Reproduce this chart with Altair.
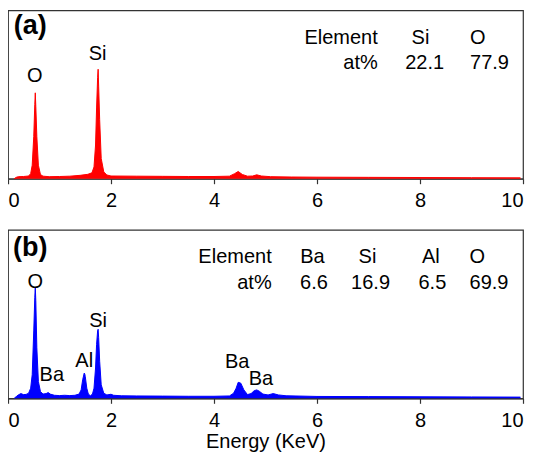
import altair as alt
import pandas as pd

# ---- Spectrum (a) ----
energy_a = [0.12, 0.16, 0.2, 0.3, 0.4, 0.44, 0.47, 0.5, 0.52, 0.53, 0.54, 0.56, 0.59, 0.63, 0.68,
            0.8, 1.0, 1.2, 1.4, 1.55, 1.63, 1.67, 1.70, 1.72, 1.74, 1.75, 1.76, 1.78, 1.81, 1.86, 1.92,
            2.0, 2.5, 3.0, 3.5, 4.0, 4.3, 4.4, 4.47, 4.55, 4.65, 4.75, 4.83, 4.92, 5.1, 5.5,
            6.0, 7.0, 8.0, 9.0, 9.95]
counts_a = [0, 0.8, 1.2, 1.3, 1.6, 3, 8, 25, 44, 51, 43, 25, 8, 2.5, 1.5,
            1.2, 1.3, 1.5, 2.0, 2.6, 3.5, 7, 20, 42, 60, 65, 55, 35, 12, 4, 2.2,
            1.6, 1.5, 1.4, 1.3, 1.3, 1.5, 3, 4.3, 2.5, 1.5, 1.6, 2.3, 1.6, 1.2, 1.0,
            0.9, 0.8, 0.7, 0.6, 0.5]

# ---- Spectrum (b) ----
energy_b = [0.12, 0.16, 0.2, 0.25, 0.3, 0.35, 0.4, 0.44, 0.47, 0.5, 0.52, 0.53, 0.54, 0.56, 0.59, 0.63, 0.68,
            0.74, 0.78, 0.82, 0.9, 1.0, 1.1, 1.2, 1.3, 1.38, 1.42, 1.45, 1.48, 1.49, 1.5, 1.53, 1.56,
            1.6, 1.64, 1.67, 1.70, 1.72, 1.74, 1.75, 1.76, 1.78, 1.81, 1.86, 1.92,
            2.0, 2.05, 2.2, 2.5, 3.0, 3.5, 4.0, 4.3, 4.38, 4.43, 4.47, 4.52, 4.58, 4.65,
            4.72, 4.78, 4.83, 4.88, 4.95, 5.05, 5.15, 5.25, 5.4, 6.0, 7.0, 8.0, 9.0, 9.95]
counts_b = [0, 1, 2, 2.8, 2.2, 2.3, 3, 6, 14, 40, 60, 66, 58, 30, 10, 4, 2.5,
            2.8, 3.4, 2.5, 1.8, 1.6, 1.8, 1.6, 1.8, 2.5, 5, 11, 15, 14.5, 13, 6, 2.5,
            1.5, 2.5, 6, 18, 32, 40, 41, 36, 22, 8, 3, 2,
            2.4, 1.8, 1.5, 1.4, 1.3, 1.2, 1.2, 1.4, 3, 6, 9.5, 9, 5, 2.2,
            2.8, 4.5, 5, 4.2, 2.5, 2, 2.8, 2, 1.5, 1.1, 1, 0.9, 0.8, 0.7]

# ---- Peak labels ----
peak_a_text = ["O", "Si"]
peak_a_x = [0.52, 1.74]
peak_a_y = [60.9, 73.9]

peak_b_text = ["O", "Ba", "Al", "Si", "Ba", "Ba"]
peak_b_x = [0.53, 0.85, 1.48, 1.75, 4.45, 4.91]
peak_b_y = [69.0, 14.1, 22.1, 45.9, 21.3, 11.6]

# ---- Composition tables ----
table_a_text = ["Si", "O", "22.1", "77.9"]
table_a_x = [8.01, 9.12, 8.09, 9.35]
table_a_y = [83.6, 83.6, 68.6, 68.6]

table_b_text = ["Ba", "Si", "Al", "O", "6.6", "16.9", "6.5", "69.9"]
table_b_x = [5.91, 6.98, 8.21, 9.11, 5.94, 7.04, 8.24, 9.34]
table_b_y = [83.9, 83.9, 83.9, 83.9, 68.4, 68.4, 68.4, 68.4]

row_heads = ["Element", "at%"]
row_head_x_a = [7.18, 7.18]
row_head_y_a = [83.6, 68.6]
row_head_x_b = [5.12, 5.12]
row_head_y_b = [83.9, 68.4]

panel_tags = ["(a)", "(b)"]
tag_x = [0.43, 0.43]
tag_y = [90.5, 89.3]

x_ticks = [0, 2, 4, 6, 8, 10]

FONT = "Liberation Sans"
W, H = 515, 168.4


def panel(energy, counts, color, peaks, table, heads, tag, show_title):
    spec = pd.DataFrame({"E": energy, "C": counts})
    xs = alt.Scale(domain=[0, 10], nice=False)
    ys = alt.Scale(domain=[0, 100], nice=False)
    xaxis = alt.Axis(values=x_ticks, title="Energy (KeV)" if show_title else None, grid=False)
    x = alt.X("E:Q", scale=xs, axis=xaxis)
    y = alt.Y("C:Q", scale=ys, axis=None)
    area = alt.Chart(spec).mark_area(color=color, opacity=1, interpolate="linear").encode(x=x, y=y)
    line = alt.Chart(spec).mark_line(color=color, strokeWidth=1).encode(x=x, y=y)

    def txt(df, align, size=20, weight="normal"):
        return alt.Chart(df).mark_text(
            align=align, baseline="middle", font=FONT, fontSize=size,
            fontWeight=weight, color="black"
        ).encode(
            x=alt.X("x:Q", scale=xs, axis=xaxis),
            y=alt.Y("y:Q", scale=ys, axis=None),
            text="t:N",
        )

    pk = txt(pd.DataFrame({"x": peaks[0], "y": peaks[1], "t": peaks[2]}), "center")
    tb = txt(pd.DataFrame({"x": table[0], "y": table[1], "t": table[2]}), "center")
    hd = txt(pd.DataFrame({"x": heads[0], "y": heads[1], "t": row_heads}), "right")
    tg = txt(pd.DataFrame({"x": [tag[0]], "y": [tag[1]], "t": [tag[2]]}), "center", size=27, weight="bold")
    return alt.layer(area, line, pk, tb, hd, tg).properties(width=W, height=H)


pa = panel(energy_a, counts_a, "#ff0000",
           (peak_a_x, peak_a_y, peak_a_text),
           (table_a_x, table_a_y, table_a_text),
           (row_head_x_a, row_head_y_a),
           (tag_x[0], tag_y[0], panel_tags[0]), False)
pb = panel(energy_b, counts_b, "#0000ff",
           (peak_b_x, peak_b_y, peak_b_text),
           (table_b_x, table_b_y, table_b_text),
           (row_head_x_b, row_head_y_b),
           (tag_x[1], tag_y[1], panel_tags[1]), True)

chart = alt.vconcat(pa, pb, spacing=17.6).properties(
    padding={"left": -2, "top": 1.3, "right": 0, "bottom": 0},
    background="white",
).configure_view(
    stroke="#333333", strokeWidth=1.2
).configure_axis(
    labelFont=FONT, labelFontSize=20, labelColor="black", labelPadding=7,
    titleFont=FONT, titleFontSize=20, titleFontWeight="normal", titleColor="black", titlePadding=1.2,
    tickSize=5, tickColor="#333333", domainColor="#333333", tickWidth=1.2, domainWidth=1.2,
)

chart.save("out.html", embed_options={"renderer": "svg", "actions": False})
